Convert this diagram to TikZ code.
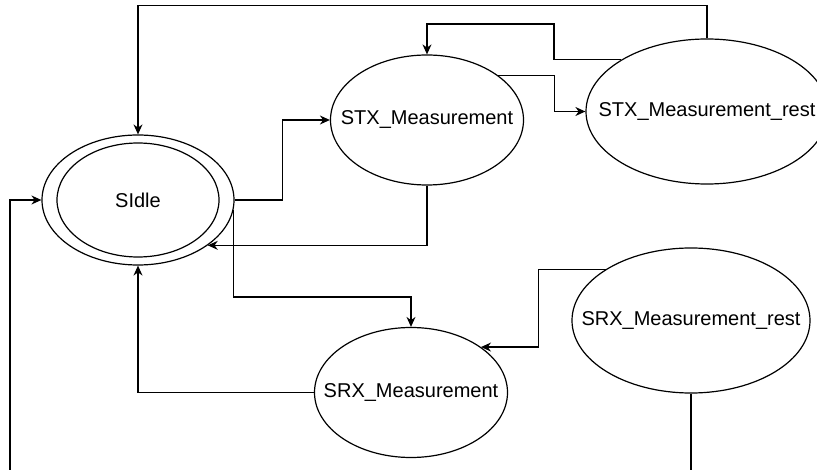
\documentclass[tikz,border=0pt]{standalone}
\usepackage{fontspec}
\setmainfont{Liberation Sans}
\usetikzlibrary{shapes.geometric,arrows.meta,calc}
\begin{document}
\begin{tikzpicture}[x=1pt,y=-1pt,
  state/.style={draw,ellipse,line width=1.2pt,inner sep=0pt,font=\fontsize{20}{24}\selectfont},
  arr/.style={line width=1.2pt,-{Stealth[length=10pt,width=9pt]}},
  plain/.style={line width=1.2pt}]
\useasboundingbox (0,0) rectangle (817,470);
\clip (0,0) rectangle (817,470);
\node[state,minimum width=192pt,minimum height=130pt] (idle) at (138,200) {\makebox[0pt]{SIdle}};
\draw[line width=1.2pt] (idle.center) ellipse [x radius=81pt,y radius=57pt];
\node[state,minimum width=193pt,minimum height=130pt] (stx) at (427,120) {\makebox[0pt]{STX\_Measurement}};
\node[state,minimum width=242pt,minimum height=145pt] (stxr) at (707,111.5) {\makebox[0pt]{STX\_Measurement\_rest}};
\node[state,minimum width=193pt,minimum height=130pt] (srx) at (411,392.5) {\makebox[0pt]{SRX\_Measurement}};
\node[state,minimum width=238pt,minimum height=145pt] (srxr) at (691,320.5) {\makebox[0pt]{SRX\_Measurement\_rest}};
\coordinate (b0) at (10,470);
\coordinate (b1) at (691,470);
% connectors
\draw[arr] (stxr.north) -- ++(0,-32.5) -| (idle.north);
\draw[arr] (stxr.149) -| (554,24) -| (stx.north);
\draw[arr] (stx.32) -- ++(56,0) |- (stxr.west);
\draw[arr] (idle.east) -- ++(48,0) |- (stx.west);
\draw[arr] (stx.south) |- (idle.-33);
\draw[arr] (idle.-6) -- ++(0,87) -| (srx.north);
\draw[arr] (srx.west) -| (idle.south);
\draw[arr] (srxr.149) -- ++(-67,0) |- (srx.33);
\draw[plain] (srxr.south) -- (b1);
\draw[arr] (b0) |- (idle.west);
\end{tikzpicture}
\end{document}
